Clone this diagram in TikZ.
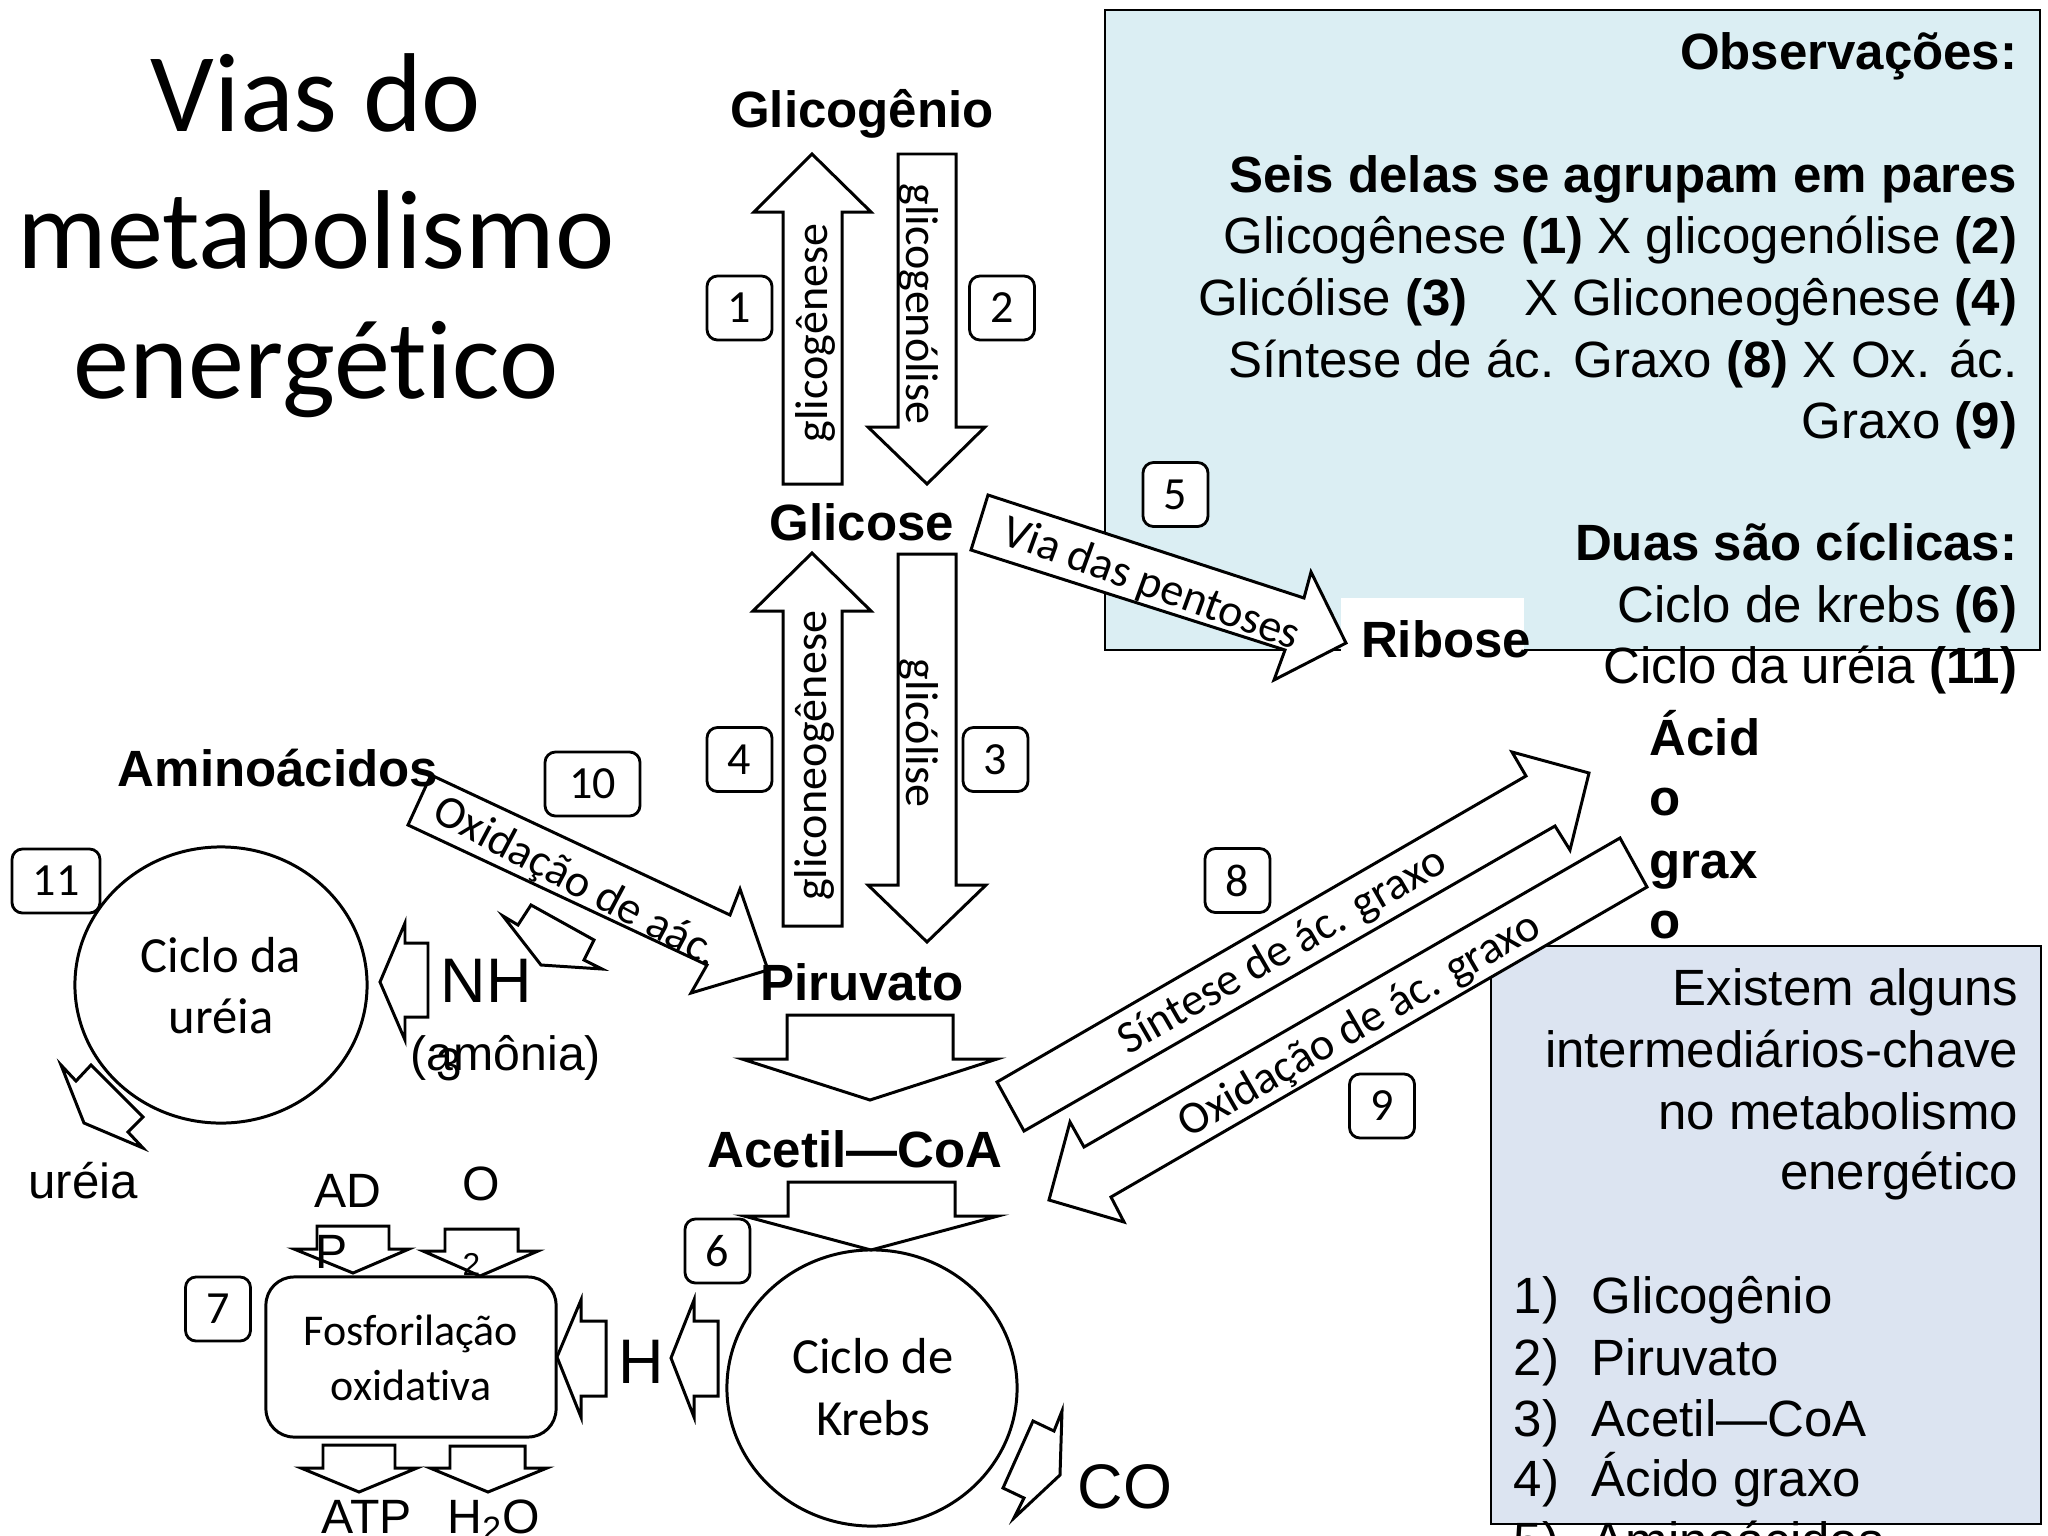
\documentclass[tikz,border=0pt]{standalone}
\usepackage{fontspec}
\setmainfont{Liberation Sans}
\newfontfamily\carl[Ligatures=NoCommon]{Carlito}
\usetikzlibrary{shapes.geometric}
\newcommand\fsz[1]{\fontsize{#1}{#1}\selectfont}
\definecolor{obsblue}{RGB}{219,238,243}
\definecolor{keyblue}{RGB}{220,228,241}
\begin{document}
\begin{tikzpicture}[x=0.01cm,y=-0.01cm,
  barrow/.style={draw,fill=white,line width=0.85pt,line join=miter},
  numbox/.style={draw,fill=white,rounded corners=3pt,line width=0.8pt,font=\carl\fsz{13.1},inner sep=0pt,minimum height=0.64cm},
  lbl/.style={inner sep=0pt,font=\bfseries\fsz{14.5}},
  txt/.style={inner sep=0pt,font=\fsz{14.5}},
  carltxt/.style={inner sep=0pt,font=\carl\fsz{13.1}},
  small/.style={inner sep=0pt,font=\fsz{13.7}},
  big/.style={inner sep=0pt,font=\fsz{17.9}},
  cyc/.style={draw,ellipse,line width=0.85pt,inner sep=0pt}]
\useasboundingbox (0,0) rectangle (2048,1536);
\clip (0,0) rectangle (2048,1536);

% information boxes
\draw[fill=obsblue,line width=0.6pt] (1105,10) rectangle (2040,650);
\draw[fill=keyblue,line width=0.6pt] (1491,946) rectangle (2041,1524);
\fill[white] (1341,598) rectangle (1524,653);

% block arrows
\draw[barrow] (783,484) -- (783,212) -- (754,212) -- (812,154) -- (871,212) -- (842,212) -- (842,484) -- cycle;
\draw[barrow] (898,154) -- (956,154) -- (956,427) -- (985,427) -- (927,484) -- (868,427) -- (898,427) -- cycle;
\draw[barrow] (783,926) -- (783,611) -- (753,611) -- (812,553) -- (871,611) -- (842,611) -- (842,926) -- cycle;
\draw[barrow] (898,554) -- (956,554) -- (956,885) -- (986,885) -- (927,942) -- (868,885) -- (898,885) -- cycle;
\draw[barrow] (787,1015) -- (953,1015) -- (953,1059) -- (997,1059) -- (870,1100) -- (742,1059) -- (787,1059) -- cycle;
\draw[barrow] (788,1182) -- (955,1182) -- (955,1216) -- (998,1216) -- (871,1250) -- (744,1216) -- (788,1216) -- cycle;
\draw[barrow] (988,495) -- (1304,598) -- (1311,572) -- (1346,643) -- (1274,680) -- (1285,650) -- (971,550) -- cycle;
\draw[barrow] (431,775) -- (730,915) -- (740,889) -- (768,970) -- (691,993) -- (707,965) -- (408,825) -- cycle;
\draw[barrow] (997,1082) -- (1526,776) -- (1512,752) -- (1589,773) -- (1570,850) -- (1555,826) -- (1024,1131) -- cycle;
\draw[barrow] (1620,838) -- (1647,887) -- (1111,1197) -- (1124,1222) -- (1049,1200) -- (1070,1122) -- (1084,1147) -- cycle;
\draw[barrow] (428,943) -- (405,943) -- (405,923) -- (380,982) -- (405,1040) -- (405,1017) -- (428,1017) -- cycle;
\draw[barrow] (503,916) -- (518,925) -- (531,905) -- (594,940) -- (584,960) -- (602,969) -- (541,965) -- cycle;
\draw[barrow] (61,1065) -- (76,1081) -- (91,1065) -- (143,1117) -- (128,1132) -- (143,1148) -- (84,1123) -- cycle;
\draw[barrow] (1033,1421) -- (1054,1431) -- (1062,1411) -- (1060,1475) -- (1014,1518) -- (1024,1498) -- (1003,1488) -- cycle;
\draw[barrow] (606,1321) -- (581,1321) -- (581,1300) -- (557,1357) -- (581,1417) -- (581,1396) -- (606,1396) -- cycle;
\draw[barrow] (718,1321) -- (694,1321) -- (694,1300) -- (671,1358) -- (694,1417) -- (694,1396) -- (718,1396) -- cycle;
\draw[barrow] (317,1226) -- (389,1226) -- (389,1249) -- (409,1249) -- (353,1273) -- (294,1249) -- (317,1249) -- cycle;
\draw[barrow] (445,1229) -- (518,1229) -- (518,1251) -- (538,1251) -- (480,1276) -- (423,1251) -- (445,1251) -- cycle;
\draw[barrow] (323,1445) -- (395,1445) -- (395,1468) -- (417,1468) -- (359,1492) -- (301,1468) -- (323,1468) -- cycle;
\draw[barrow] (450,1446) -- (525,1446) -- (525,1468) -- (547,1468) -- (488,1492) -- (430,1468) -- (450,1468) -- cycle;

% cycles and process box
\node[cyc,minimum width=2.92cm,minimum height=2.76cm] (urea) at (221,985) {};
\node[cyc,minimum width=2.90cm,minimum height=2.76cm] (krebs) at (872,1388) {};
\node[draw,rounded corners=8pt,line width=0.85pt,minimum width=2.90cm,minimum height=1.60cm] (fosf) at (411,1357) {};

% number boxes
\node[numbox,minimum width=0.65cm] (b1) at (739.5,308) {1};
\node[numbox,minimum width=0.65cm] (b2) at (1002,308) {2};
\node[numbox,minimum width=0.65cm] (b3) at (995.5,759.5) {3};
\node[numbox,minimum width=0.65cm] (b4) at (739.5,759.5) {4};
\node[numbox,minimum width=0.65cm] (b5) at (1175.5,494.5) {5};
\node[numbox,minimum width=0.65cm] (b6) at (717.5,1251) {6};
\node[numbox,minimum width=0.65cm] (b7) at (218,1309) {7};
\node[numbox,minimum width=0.65cm] (b8) at (1237.5,880.5) {8};
\node[numbox,minimum width=0.65cm] (b9) at (1382,1106) {9};
\node[numbox,minimum width=0.95cm] (b10) at (592.5,784) {10};
\node[numbox,minimum width=0.88cm] (b11) at (56,881) {11};

% title
\node[inner sep=0pt,font=\carl\fsz{31.9},anchor=base] (t1) at (316,131) {Vias do};
\node[inner sep=0pt,font=\carl\fsz{31.9},anchor=base] (t2) at (316,268) {metabolismo};
\node[inner sep=0pt,font=\carl\fsz{31.9},anchor=base] (t3) at (316,398) {energético};

% metabolite labels
\node[lbl,anchor=base] (glicogenio) at (862,127) {Glicogênio};
\node[lbl,anchor=base] (glicose) at (862,540) {Glicose};
\node[lbl,anchor=base] (piruvato) at (862,1000) {Piruvato};
\node[lbl,anchor=base] (acetil) at (855,1167) {Acetil—CoA};
\node[lbl,anchor=base] (amino) at (278,786) {Aminoácidos};
\node[lbl,anchor=base] (ribose) at (1446,657) {Ribose};
\node[lbl,anchor=base west] (ag1) at (1649,755) {Ácid};
\node[lbl,anchor=base west] (ag2) at (1649,815) {o};
\node[lbl,anchor=base west] (ag3) at (1649,878) {grax};
\node[lbl,anchor=base west] (ag4) at (1649,938) {o};

% pathway labels
\node[carltxt,rotate=90] (l1) at (815,333) {glicogênese};
\node[carltxt,rotate=-90] (l2) at (919,304) {glicogenólise};
\node[carltxt,rotate=90] (l4) at (814,756) {gliconeogênese};
\node[carltxt,rotate=-90] (l3) at (919,733) {glicólise};
\node[carltxt,rotate=-20] (l5) at (1151,585) {Via das pentoses};
\node[carltxt,rotate=-28] (l10) at (576,883) {Oxidação de aác.};
\node[carltxt,rotate=30] (l8) at (1283,952) {Síntese de ác. graxo};
\node[carltxt,rotate=30] (l9) at (1360,1026) {Oxidação de ác. graxo};

% cycle labels
\node[inner sep=0pt,font=\carl\fsz{14.4},anchor=base] (cu1) at (221,972) {Ciclo da};
\node[inner sep=0pt,font=\carl\fsz{14.4},anchor=base] (cu2) at (221,1033) {uréia};
\node[inner sep=0pt,font=\carl\fsz{14.4},anchor=base] (ck1) at (873,1373) {Ciclo de};
\node[inner sep=0pt,font=\carl\fsz{14.4},anchor=base] (ck2) at (873,1435) {Krebs};
\node[inner sep=0pt,font=\carl\fsz{12.5},anchor=base] (f1) at (411,1345) {Fosforilação};
\node[inner sep=0pt,font=\carl\fsz{12.5},anchor=base] (f2) at (411,1400) {oxidativa};

% small species labels
\node[big,anchor=base west] (nh) at (440,1002) {NH};
\node[inner sep=0pt,font=\fsz{13},anchor=base] (nh3) at (449,1080) {3};
\node[small,anchor=base] (amonia) at (506,1070) {(amônia)};
\node[big,anchor=base west] (co) at (1077,1508) {CO};
\node[big,anchor=base] (hh) at (641,1383) {H};
\node[small,anchor=base west] (ad) at (314,1207) {AD};
\node[small,anchor=base west] (pp) at (315,1268) {P};
\node[small,anchor=base west] (oo) at (462,1200) {O};
\node[inner sep=0pt,font=\fsz{9},anchor=base west] (o2) at (462,1275) {2};
\node[small,anchor=base] (atp) at (367,1533) {ATP};
\node[small,anchor=base] (h2o) at (494,1533) {H\textsubscript{2}O};
\node[inner sep=0pt,font=\fsz{14},anchor=base] (ureia) at (83,1198) {uréia};

% observations box text
\node[txt,anchor=base east] (ob1) at (2018,69) {\textbf{Observações:}};
\node[txt,anchor=base east] (ob2) at (2018,192) {\textbf{Seis delas se agrupam em pares}};
\node[txt,anchor=base east] (ob3) at (2018,253) {Glicogênese \textbf{(1)} X glicogenólise \textbf{(2)}};
\node[txt,anchor=base east] (ob4) at (2018,315) {Glicólise \textbf{(3)}~~~~X Gliconeogênese \textbf{(4)}};
\node[txt,anchor=base east] (ob5) at (2018,377) {Síntese de ác. Graxo \textbf{(8)} X Ox. ác.};
\node[txt,anchor=base east] (ob6) at (2018,438) {Graxo \textbf{(9)}};
\node[txt,anchor=base east] (ob7) at (2018,560) {\textbf{Duas são cíclicas:}};
\node[txt,anchor=base east] (ob8) at (2018,622) {Ciclo de krebs \textbf{(6)}};
\node[txt,anchor=base east] (ob9) at (2018,683) {Ciclo da uréia \textbf{(11)}};

% key intermediates box text
\node[txt,anchor=base east] (k1) at (2019,1005) {Existem alguns};
\node[txt,anchor=base east] (k2) at (2019,1067) {intermediários-chave};
\node[txt,anchor=base east] (k3) at (2019,1129) {no metabolismo};
\node[txt,anchor=base east] (k4) at (2019,1189) {energético};
\node[txt,anchor=base west] (kn1) at (1513,1313) {1)};
\node[txt,anchor=base west] (kt1) at (1591,1313) {Glicogênio};
\node[txt,anchor=base west] (kn2) at (1513,1375) {2)};
\node[txt,anchor=base west] (kt2) at (1591,1375) {Piruvato};
\node[txt,anchor=base west] (kn3) at (1513,1436) {3)};
\node[txt,anchor=base west] (kt3) at (1591,1436) {Acetil—CoA};
\node[txt,anchor=base west] (kn4) at (1513,1496) {4)};
\node[txt,anchor=base west] (kt4) at (1591,1496) {Ácido graxo};
\node[txt,anchor=base west] (kn5) at (1513,1558) {5)};
\node[txt,anchor=base west] (kt5) at (1591,1558) {Aminoácidos};
\end{tikzpicture}
\end{document}
